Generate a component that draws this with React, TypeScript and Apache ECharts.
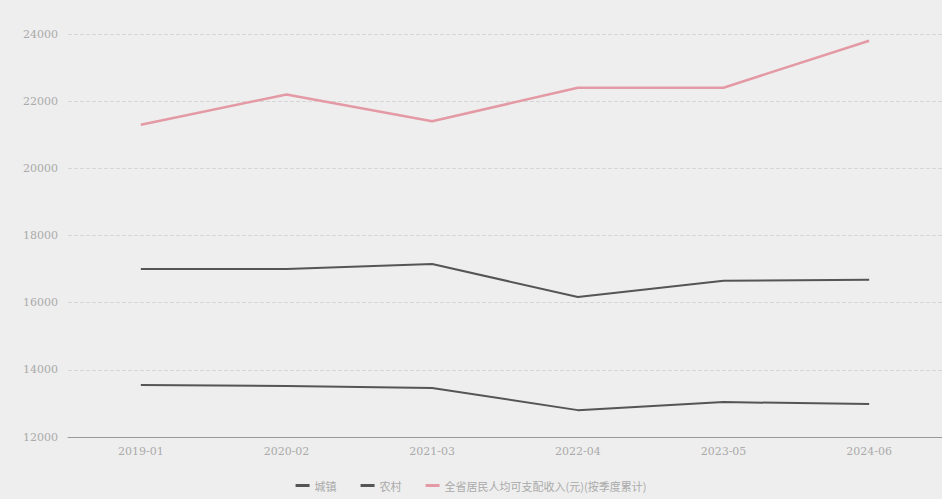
import React, { useEffect, useRef } from "react";
import * as echarts from "echarts";

const categories = ["2019-01", "2020-02", "2021-03", "2022-04", "2023-05", "2024-06"];
const seriesNames = ["城镇", "农村", "全省居民人均可支配收入(元)(按季度累计)"];
const redValues = [21300, 22200, 21400, 22400, 22400, 23800];
const darkValues1 = [17000, 17000, 17150, 16170, 16650, 16680];
const darkValues2 = [13550, 13520, 13460, 12800, 13040, 12980];
const yMin = 12000;
const yMax = 24000;
const yInterval = 2000;

export default function App() {
  const ref = useRef<HTMLDivElement>(null);
  useEffect(() => {
    document.body.style.margin = "0";
    if (!ref.current) return;
    const chart = echarts.init(ref.current, undefined, { renderer: "svg" });
    chart.setOption({
      animation: false,
      backgroundColor: "#eeeeee",
      textStyle: { fontFamily: "DejaVu Serif" },
      grid: { left: 68, right: 0, top: 34, bottom: 62 },
      legend: {
        bottom: 3,
        left: "center",
        icon: "rect",
        itemWidth: 14,
        itemHeight: 3,
        itemGap: 24,
        textStyle: { color: "#aaaaaa", fontSize: 11, fontFamily: "Noto Sans CJK SC" },
        data: seriesNames,
      },
      xAxis: {
        type: "category",
        data: categories,
        boundaryGap: true,
        axisLine: { lineStyle: { color: "#999999", width: 1 } },
        axisTick: { show: false },
        axisLabel: { color: "#aaaaaa", fontSize: 11, margin: 9 },
      },
      yAxis: {
        type: "value",
        min: yMin,
        max: yMax,
        interval: yInterval,
        axisLine: { show: false },
        axisTick: { show: false },
        axisLabel: { color: "#aaaaaa", fontSize: 11, margin: 10, formatter: (v: number) => String(v) },
        splitLine: { lineStyle: { color: "#d6d6d6", type: "dashed", width: 1 } },
      },
      series: [
        {
          name: seriesNames[0],
          type: "line",
          data: darkValues1,
          symbol: "none",
          lineStyle: { color: "#555555", width: 2 },
          itemStyle: { color: "#555555" },
        },
        {
          name: seriesNames[1],
          type: "line",
          data: darkValues2,
          symbol: "none",
          lineStyle: { color: "#555555", width: 2 },
          itemStyle: { color: "#555555" },
        },
        {
          name: seriesNames[2],
          type: "line",
          data: redValues,
          symbol: "none",
          lineStyle: { color: "#e49aa4", width: 2.5 },
          itemStyle: { color: "#e49aa4" },
        },
      ],
    });
    return () => chart.dispose();
  }, []);
  return <div ref={ref} style={{ width: 942, height: 499 }} />;
}
